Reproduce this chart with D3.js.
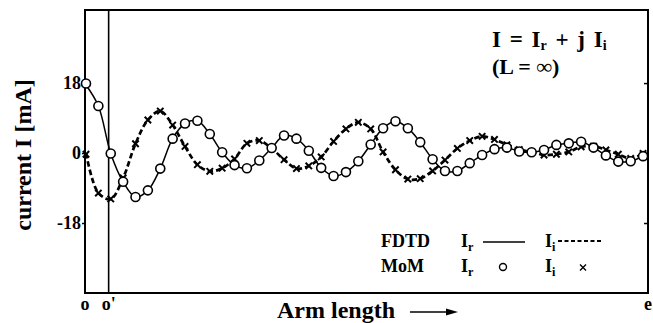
<!DOCTYPE html>
<html>
<head>
<meta charset="utf-8">
<script src="https://cdn.jsdelivr.net/npm/d3@7"></script>
<style>
  html, body { margin: 0; padding: 0; background: #fff; }
  svg { display: block; }
  text { font-family: "Liberation Serif", "Times New Roman", serif; fill: #000; }
</style>
</head>
<body>
<svg id="chart" width="653" height="323"></svg>
<script>
// Sample points along the arm (segment index, o at the left end, e at the right end)
const segment = [0,1,2,3,4,5,6,7,8,9,10,11,12,13,14,15,16,17,18,19,20,21,22,23,24,25,26,27,28,29,30,31,32,33,34,35,36,37,38,39,40,41,42,43,44,45];

// Current in mA, real and imaginary parts, MoM samples
const momIr = [17.9,12.1,-0.1,-7.4,-11.3,-9.6,-4.0,3.7,7.6,8.3,4.9,0.2,-3.1,-3.9,-1.9,1.3,4.5,3.7,0.6,-3.8,-5.9,-4.9,-2.1,2.2,6.4,8.2,6.4,2.8,-1.6,-4.6,-4.6,-2.6,-0.5,1.0,1.4,0.4,0.2,0.8,2.1,2.5,2.9,1.4,-0.6,-2.2,-2.1,-0.8];
const momIi = [-0.3,-10.3,-11.8,-6.4,2.4,8.5,10.8,7.2,1.7,-3.0,-4.7,-3.9,-1.5,2.5,3.2,1.2,-1.7,-4.0,-3.3,-1.0,3.0,6.2,7.9,6.2,0.3,-4.3,-6.7,-6.6,-4.6,-1.8,1.2,3.2,4.3,3.5,2.1,0.9,0.3,-0.5,-0.3,0.3,1.6,1.8,0.8,-0.3,-1.4,-0.1];

// FDTD results at the same points
const fdtdIr = [17.5,12.1,-0.1,-7.4,-11.3,-9.6,-4.0,3.7,7.6,8.3,4.9,0.2,-3.1,-3.9,-1.9,1.3,4.5,3.7,0.6,-3.8,-5.9,-4.9,-2.1,2.2,6.4,8.2,6.4,2.8,-1.6,-4.6,-4.6,-2.6,-0.5,1.0,1.4,0.4,0.2,0.8,2.1,2.5,2.9,1.4,-0.6,-2.2,-2.1,-0.8];
const fdtdIi = [0.0,-10.3,-11.8,-6.4,2.4,8.5,10.8,7.2,1.7,-3.0,-4.7,-3.9,-1.5,2.5,3.2,1.2,-1.7,-4.0,-3.3,-1.0,3.0,6.2,7.9,6.2,0.3,-4.3,-6.7,-6.6,-4.6,-1.8,1.2,3.2,4.3,3.5,2.1,0.9,0.3,-0.5,-0.3,0.3,1.6,1.8,0.8,-0.3,-1.4,-0.1];

// Axis tick labels
const yTicks = [18, 0, -18];
const yTickLabels = ["18", "0", "-18"];
const xMarks = [{pos: -0.08, label: "o"}, {pos: 1.83, label: "o'"}, {pos: 45.4, label: "e"}];
const oPrime = 1.83;

const svg = d3.select("#chart");
const plotL = 85, plotR = 648, plotT = 10, plotB = 293;

const x = d3.scaleLinear().domain([-0.08, 45.4]).range([plotL, plotR]);
const y = d3.scaleLinear().domain([-36, 36.8]).range([plotB, plotT]);

// frame
svg.append("rect")
  .attr("x", plotL).attr("y", plotT)
  .attr("width", plotR - plotL).attr("height", plotB - plotT)
  .attr("fill", "none").attr("stroke", "#000").attr("stroke-width", 2);

// o' reference line
svg.append("line")
  .attr("x1", x(oPrime)).attr("x2", x(oPrime))
  .attr("y1", plotT).attr("y2", plotB)
  .attr("stroke", "#000").attr("stroke-width", 1.6);

// left axis
const yAxisL = d3.axisLeft(y).tickValues(yTicks).tickSize(3)
  .tickFormat((d, i) => yTickLabels[i]).tickPadding(1);
const gL = svg.append("g").attr("transform", `translate(${plotL},0)`).call(yAxisL);
gL.select(".domain").remove();
gL.selectAll("line").attr("stroke-width", 1.5);
gL.selectAll("text").attr("font-size", 18).attr("font-weight", "bold")
  .style("font-family", '"Liberation Serif", serif');

// right axis, inward ticks
const yAxisR = d3.axisLeft(y).tickValues(yTicks).tickSize(4).tickFormat("");
const gR = svg.append("g").attr("transform", `translate(${plotR},0)`).call(yAxisR);
gR.select(".domain").remove();
gR.selectAll("line").attr("stroke-width", 1.5).attr("x2", -4);

// x labels o, o', e
svg.append("g").selectAll("text").data(xMarks).join("text")
  .attr("x", d => x(d.pos)).attr("y", 310)
  .attr("text-anchor", "middle")
  .attr("font-size", 18).attr("font-weight", "bold")
  .text(d => d.label);

// axis titles
svg.append("text")
  .attr("transform", "translate(31,155) rotate(-90)")
  .attr("text-anchor", "middle")
  .attr("font-size", 24).attr("font-weight", "bold")
  .text("current I [mA]");

svg.append("text")
  .attr("x", 277).attr("y", 318)
  .attr("font-size", 24).attr("font-weight", "bold")
  .text("Arm length");
svg.append("line")
  .attr("x1", 410).attr("x2", 452).attr("y1", 312).attr("y2", 312)
  .attr("stroke", "#000").attr("stroke-width", 1.5);
svg.append("path")
  .attr("d", "M458,312 L446,308.5 L446,315.5 Z").attr("fill", "#000");

// curves
const line = (vals) => d3.line()
  .x((d, i) => x(segment[i]))
  .y(d => y(d))
  .curve(d3.curveCatmullRom.alpha(0.5))(vals);

svg.append("path").attr("d", line(fdtdIi))
  .attr("fill", "none").attr("stroke", "#000")
  .attr("stroke-width", 2.7).attr("stroke-dasharray", "5.5,3");

svg.append("path").attr("d", line(fdtdIr))
  .attr("fill", "none").attr("stroke", "#000").attr("stroke-width", 1.5);

// MoM crosses
const cross = 3.2;
svg.append("g").selectAll("path").data(momIi).join("path")
  .attr("d", (d, i) => {
    const cx = x(segment[i]), cy = y(d);
    return `M${cx - cross},${cy - cross}L${cx + cross},${cy + cross}M${cx - cross},${cy + cross}L${cx + cross},${cy - cross}`;
  })
  .attr("stroke", "#000").attr("stroke-width", 2);

// MoM circles
svg.append("g").selectAll("circle").data(momIr).join("circle")
  .attr("cx", (d, i) => x(segment[i])).attr("cy", d => y(d))
  .attr("r", 4.5)
  .attr("fill", "#fff").attr("stroke", "#000").attr("stroke-width", 1.6);

// formula
const f1 = svg.append("text").attr("x", 492).attr("y", 47)
  .attr("font-size", 23).attr("font-weight", "bold")
  .attr("word-spacing", 3);
f1.append("tspan").text("I = I");
f1.append("tspan").attr("font-size", 14).attr("dy", 3).text("r");
f1.append("tspan").attr("dy", -3).text(" + j I");
f1.append("tspan").attr("font-size", 14).attr("dy", 3).text("i");
svg.append("text").attr("x", 492).attr("y", 74)
  .attr("font-size", 22).attr("font-weight", "bold")
  .text("(L = \u221E)");

// legend
const legendRow = (yb, name) => {
  svg.append("text").attr("x", 381).attr("y", yb)
    .attr("font-size", 18).attr("font-weight", "bold").text(name);
  const a = svg.append("text").attr("x", 461).attr("y", yb)
    .attr("font-size", 18).attr("font-weight", "bold");
  a.append("tspan").text("I");
  a.append("tspan").attr("font-size", 12).attr("dy", 4).text("r");
  const b = svg.append("text").attr("x", 545).attr("y", yb)
    .attr("font-size", 18).attr("font-weight", "bold");
  b.append("tspan").text("I");
  b.append("tspan").attr("font-size", 12).attr("dy", 4).text("i");
};
legendRow(247, "FDTD");
legendRow(272, "MoM");

svg.append("line").attr("x1", 483).attr("x2", 525).attr("y1", 242).attr("y2", 242)
  .attr("stroke", "#000").attr("stroke-width", 1.5);
svg.append("line").attr("x1", 558).attr("x2", 602).attr("y1", 241).attr("y2", 241)
  .attr("stroke", "#000").attr("stroke-width", 2.2).attr("stroke-dasharray", "4,2.5");
svg.append("circle").attr("cx", 503).attr("cy", 267).attr("r", 3.5)
  .attr("fill", "#fff").attr("stroke", "#000").attr("stroke-width", 1.4);
svg.append("path").attr("d", "M580,264.5L586,270.5M580,270.5L586,264.5")
  .attr("stroke", "#000").attr("stroke-width", 1.4);
</script>
</body>
</html>
